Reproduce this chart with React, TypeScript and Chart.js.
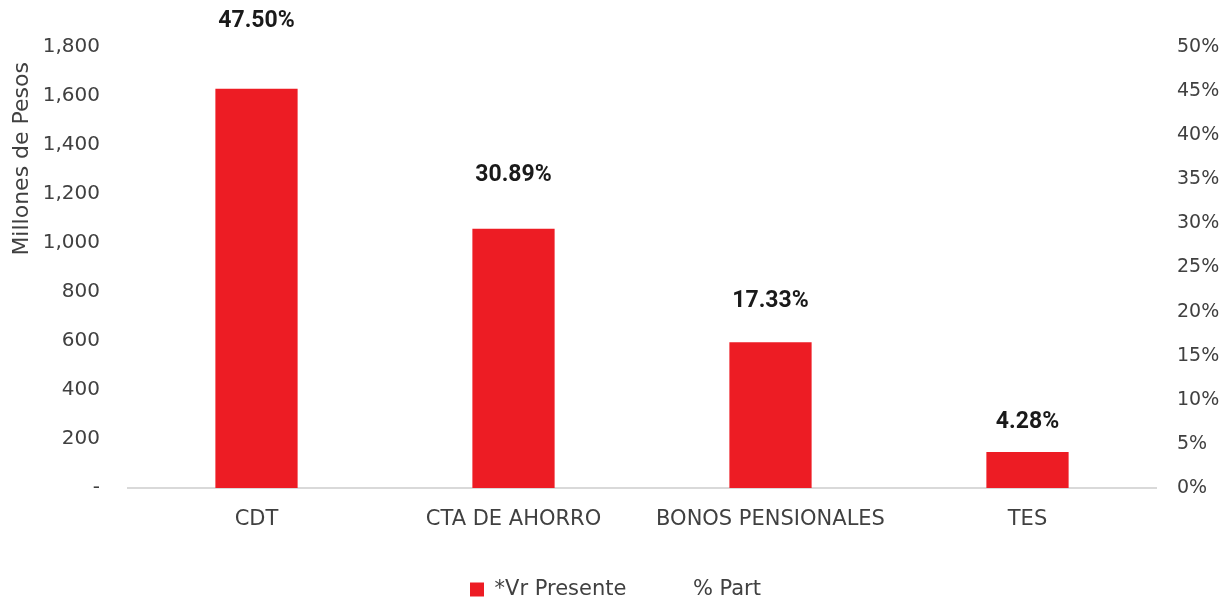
import React, { useEffect, useRef } from "react";
import { Chart, registerables } from "chart.js";

Chart.register(...registerables);

const categories = ["CDT", "CTA DE AHORRO", "BONOS PENSIONALES", "TES"];
const vrPresente = [1630, 1058, 595, 147];
const pctPart = [47.5, 30.89, 17.33, 4.28];
const leftMax = 1800;
const leftStep = 200;
const rightMax = 50;
const rightStep = 5;
const yTitle = "Millones de Pesos";

const FONT = "'DejaVu Sans', sans-serif";
const TEXT = "#404040";

const pctLabelPlugin = {
  id: "pctLabels",
  afterDatasetsDraw(chart: any) {
    const meta = chart.getDatasetMeta(1);
    const ctx = chart.ctx;
    ctx.save();
    ctx.font = "bold 23px Roboto, sans-serif";
    ctx.fillStyle = "#1a1a1a";
    ctx.textAlign = "center";
    ctx.textBaseline = "middle";
    meta.data.forEach((pt: any, i: number) => {
      ctx.fillText(pctPart[i].toFixed(2) + "%", pt.x, pt.y - 26);
    });
    ctx.restore();
  },
};

const yTitlePlugin = {
  id: "yTitle",
  afterDraw(chart: any) {
    const ctx = chart.ctx;
    const area = chart.chartArea;
    ctx.save();
    ctx.translate(22, area.top + 15);
    ctx.rotate(-Math.PI / 2);
    ctx.font = "22px " + FONT;
    ctx.fillStyle = TEXT;
    ctx.textAlign = "right";
    ctx.textBaseline = "middle";
    ctx.fillText(yTitle, 0, 0);
    ctx.restore();
  },
};

export default function App() {
  const ref = useRef<HTMLCanvasElement | null>(null);

  useEffect(() => {
    document.body.style.margin = "0";
    const chart = new Chart(ref.current!, {
      type: "bar",
      data: {
        labels: categories,
        datasets: [
          {
            label: "*Vr Presente",
            data: vrPresente,
            backgroundColor: "#ED1C24",
            borderWidth: 0,
            yAxisID: "y",
            barPercentage: 0.64,
            categoryPercentage: 0.5,
          },
          {
            type: "line",
            label: "% Part",
            data: pctPart,
            yAxisID: "yPct",
            borderColor: "rgba(0,0,0,0)",
            backgroundColor: "rgba(0,0,0,0)",
            showLine: false,
            pointRadius: 0,
          } as any,
        ],
      },
      options: {
        animation: false,
        responsive: false,
        layout: { padding: { top: 47, bottom: -10, left: 0, right: 0 } },
        plugins: {
          tooltip: { enabled: false },
          legend: {
            position: "bottom",
            labels: {
              font: { family: FONT, size: 21, lineHeight: 1 },
              color: TEXT,
              boxWidth: 14,
              boxHeight: 14,
              padding: 42,
            },
          },
        },
        scales: {
          x: {
            grid: { display: false, drawTicks: false },
            border: { color: "#d9d9d9", width: 2 },
            ticks: { font: { family: FONT, size: 21 }, color: TEXT, padding: 19 },
            afterFit: (s: any) => {
              s.height = 49;
            },
          },
          y: {
            position: "left",
            min: 0,
            max: leftMax,
            grid: { display: false, drawTicks: false },
            border: { display: false },
            ticks: {
              stepSize: leftStep,
              font: { family: FONT, size: 20 },
              color: TEXT,
              padding: 28,
              callback: (v: any) => (v === 0 ? "-" : Number(v).toLocaleString("en-US")),
            },
            afterFit: (s: any) => {
              s.width = 128;
            },
          },
          y1: {
            position: "right",
            min: 0,
            max: rightMax,
            grid: { display: false, drawTicks: false },
            border: { display: false },
            ticks: {
              stepSize: rightStep,
              font: { family: FONT, size: 19 },
              color: TEXT,
              padding: 21,
              callback: (v: any) => v + "%",
            },
            afterFit: (s: any) => {
              s.width = 75;
            },
          },
          yPct: {
            display: false,
            min: 0,
            max: Math.max(...pctPart),
          },
        },
      } as any,
      plugins: [pctLabelPlugin, yTitlePlugin],
    });
    return () => chart.destroy();
  }, []);

  return (
    <div style={{ width: 1231, height: 600 }}>
      <canvas ref={ref} width={1231} height={600} />
    </div>
  );
}
